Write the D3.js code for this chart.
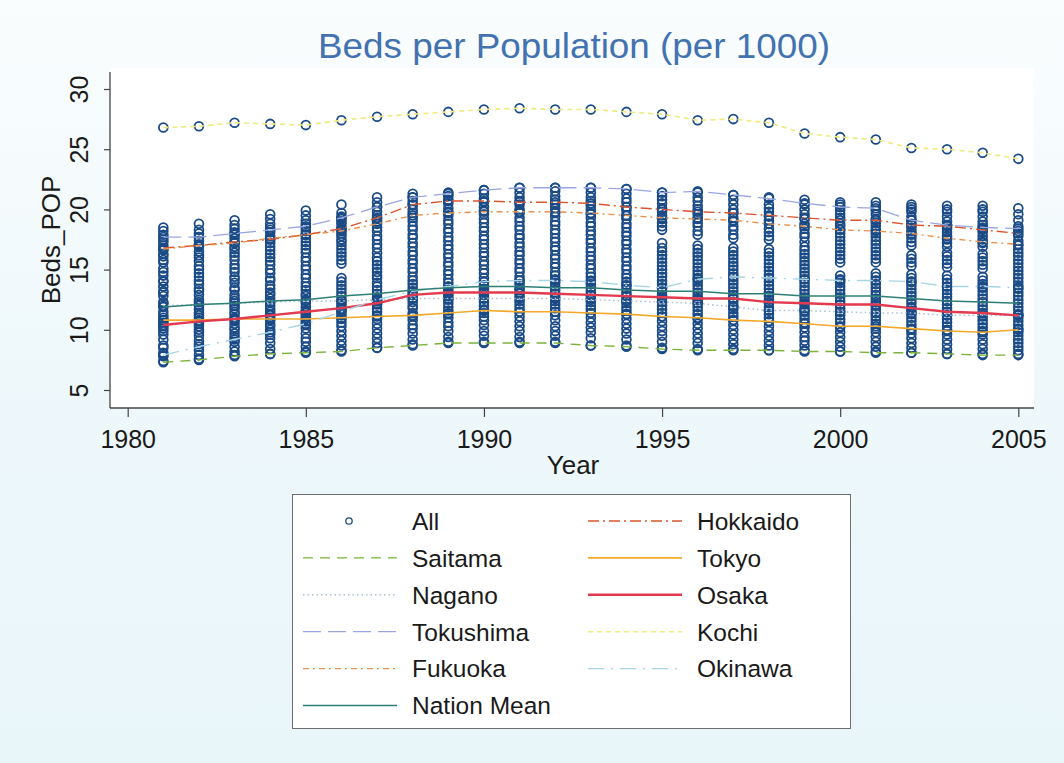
<!DOCTYPE html>
<html>
<head>
<meta charset="utf-8">
<script src="https://cdn.jsdelivr.net/npm/d3@7"></script>
<style>
  body { margin: 0; background: #ffffff; }
  svg { display: block; font-family: "Liberation Sans", Arial, sans-serif; }
</style>
</head>
<body>
<div id="chart"></div>
<script>
// years on the x axis
var years = [1981, 1982, 1983, 1984, 1985, 1986, 1987, 1988, 1989, 1990, 1991, 1992, 1993,
             1994, 1995, 1996, 1997, 1998, 1999, 2000, 2001, 2002, 2003, 2004, 2005];

// highlighted prefectures (beds per 1000 population)
var hokkaido   = [16.8, 17.0, 17.3, 17.5, 17.9, 18.4, 19.3, 20.4, 20.7, 20.7, 20.6, 20.6, 20.5, 20.2, 20.0, 19.8, 19.7, 19.5, 19.3, 19.1, 19.1, 18.7, 18.6, 18.3, 18.0];
var saitama    = [7.3, 7.5, 7.8, 8.0, 8.1, 8.2, 8.5, 8.7, 8.9, 8.9, 8.9, 8.9, 8.7, 8.6, 8.4, 8.3, 8.3, 8.3, 8.2, 8.2, 8.1, 8.1, 8.0, 7.9, 7.9];
var tokyo      = [10.8, 10.8, 10.9, 10.9, 10.9, 11.0, 11.1, 11.2, 11.4, 11.6, 11.5, 11.5, 11.4, 11.3, 11.1, 11.0, 10.8, 10.7, 10.5, 10.3, 10.3, 10.1, 9.9, 9.8, 10.0];
var nagano     = [12.0, 12.1, 12.2, 12.3, 12.4, 12.4, 12.5, 12.6, 12.6, 12.6, 12.6, 12.6, 12.5, 12.4, 12.3, 12.2, 11.9, 11.6, 11.6, 11.5, 11.4, 11.4, 11.2, 11.2, 11.2];
var osaka      = [10.4, 10.7, 10.9, 11.2, 11.5, 11.8, 12.2, 12.9, 13.1, 13.1, 13.1, 13.0, 12.9, 12.8, 12.7, 12.6, 12.6, 12.3, 12.2, 12.1, 12.1, 11.8, 11.5, 11.4, 11.2];
var tokushima  = [17.7, 17.7, 18.0, 18.3, 18.6, 19.3, 20.2, 21.0, 21.3, 21.6, 21.8, 21.8, 21.8, 21.7, 21.4, 21.5, 21.2, 20.9, 20.5, 20.2, 20.1, 19.1, 18.7, 18.5, 18.4];
var kochi      = [26.8, 26.9, 27.2, 27.1, 27.0, 27.4, 27.7, 27.9, 28.1, 28.3, 28.4, 28.3, 28.3, 28.1, 27.9, 27.4, 27.5, 27.2, 26.3, 26.0, 25.8, 25.1, 25.0, 24.7, 24.2];
var fukuoka    = [16.7, 17.0, 17.2, 17.6, 17.9, 18.2, 18.8, 19.5, 19.7, 19.8, 19.8, 19.8, 19.7, 19.5, 19.3, 19.2, 19.1, 18.8, 18.6, 18.3, 18.2, 18.0, 17.6, 17.3, 17.1];
var okinawa    = [7.9, 8.6, 9.2, 9.8, 10.5, 11.5, 12.5, 13.2, 13.6, 14.0, 14.1, 14.1, 14.0, 13.7, 13.5, 14.2, 14.4, 14.3, 14.2, 14.1, 14.1, 14.0, 13.6, 13.6, 13.5];
var nationMean = [11.9, 12.1, 12.2, 12.4, 12.5, 12.8, 13.0, 13.3, 13.5, 13.6, 13.6, 13.5, 13.5, 13.3, 13.2, 13.2, 13.0, 13.0, 12.8, 12.8, 12.8, 12.6, 12.4, 12.3, 12.2];

// remaining prefectures, one list per year (read from the stacked circles)
var othersByYear = [
  [7.4, 7.8, 8.1, 8.5, 8.7, 9.2, 9.6, 9.9, 10.1, 10.3, 10.6, 10.8, 11.0, 11.2, 11.5, 11.9, 12.2, 12.3, 12.8, 13.1, 13.2, 13.6, 14.0, 14.1, 14.5, 14.8, 15.1, 15.6, 15.8, 16.1, 16.3, 16.6, 17.0, 17.3, 17.5, 17.9, 18.2, 18.5],
  [7.6, 7.9, 8.3, 8.8, 9.1, 9.5, 9.8, 10.0, 10.3, 10.5, 10.7, 11.0, 11.2, 11.4, 11.7, 12.0, 12.3, 12.5, 12.9, 13.2, 13.4, 13.8, 14.1, 14.4, 14.7, 15.0, 15.3, 15.7, 16.0, 16.2, 16.5, 16.9, 17.1, 17.4, 17.7, 18.0, 18.3, 18.8],
  [7.9, 8.2, 8.6, 9.0, 9.4, 9.7, 10.0, 10.2, 10.5, 10.8, 11.0, 11.3, 11.5, 11.8, 12.0, 12.4, 12.6, 12.9, 13.3, 13.5, 13.9, 14.2, 14.4, 14.8, 15.1, 15.4, 15.8, 16.1, 16.4, 16.7, 16.9, 17.2, 17.6, 17.9, 18.1, 18.4, 18.7, 19.1],
  [8.0, 8.4, 8.9, 9.3, 9.6, 10.0, 10.3, 10.5, 10.8, 11.0, 11.3, 11.5, 11.7, 12.0, 12.3, 12.6, 12.9, 13.1, 13.4, 13.7, 14.1, 14.3, 14.7, 15.0, 15.4, 15.7, 16.0, 16.3, 16.6, 16.9, 17.2, 17.5, 17.8, 18.1, 18.5, 18.8, 19.2, 19.6],
  [8.2, 8.6, 9.0, 9.3, 9.7, 10.1, 10.4, 10.7, 11.0, 11.2, 11.4, 11.6, 11.9, 12.2, 12.5, 12.8, 13.0, 13.3, 13.6, 13.9, 14.3, 14.6, 15.0, 15.3, 15.7, 16.0, 16.4, 16.7, 17.0, 17.3, 17.6, 17.9, 18.2, 18.5, 18.8, 19.1, 19.5, 19.9],
  [8.3, 8.7, 9.1, 9.5, 9.9, 10.3, 10.6, 10.9, 11.2, 11.5, 11.7, 12.0, 12.2, 12.5, 12.8, 13.1, 13.4, 13.7, 14.0, 14.3, 15.5, 15.8, 16.1, 16.4, 16.7, 17.0, 17.3, 17.5, 17.8, 18.0, 18.3, 18.5, 18.8, 19.0, 19.2, 19.4, 19.7, 20.4],
  [8.5, 8.9, 9.3, 9.7, 10.1, 10.5, 10.9, 11.2, 11.5, 11.8, 12.1, 12.4, 12.7, 13.0, 13.3, 13.6, 13.9, 14.3, 14.5, 14.8, 15.1, 15.4, 15.7, 16.0, 16.4, 16.8, 17.1, 17.5, 17.8, 18.2, 18.5, 19.0, 19.2, 19.5, 19.8, 20.2, 20.6, 21.0],
  [8.8, 9.2, 9.7, 10.1, 10.4, 10.8, 11.1, 11.4, 11.8, 12.0, 12.3, 12.6, 12.9, 13.2, 13.5, 13.8, 14.1, 14.4, 14.8, 15.1, 15.5, 15.8, 16.2, 16.5, 16.9, 17.2, 17.6, 17.9, 18.3, 18.6, 19.0, 19.3, 19.7, 20.0, 20.4, 20.7, 21.0, 21.3],
  [9.0, 9.4, 9.9, 10.3, 10.6, 11.0, 11.3, 11.6, 11.9, 12.2, 12.5, 12.8, 13.0, 13.3, 13.6, 13.9, 14.2, 14.6, 14.9, 15.3, 15.6, 16.0, 16.3, 16.7, 17.0, 17.4, 17.7, 18.1, 18.4, 18.8, 19.1, 19.5, 19.8, 20.1, 20.5, 20.8, 21.1, 21.4],
  [9.0, 9.5, 9.9, 10.4, 10.8, 11.1, 11.4, 11.7, 12.0, 12.3, 12.6, 12.9, 13.2, 13.4, 13.7, 14.0, 14.3, 14.7, 15.0, 15.4, 15.7, 16.1, 16.4, 16.8, 17.1, 17.5, 17.8, 18.2, 18.5, 18.9, 19.2, 19.6, 19.9, 20.2, 20.6, 20.9, 21.3, 21.6],
  [9.0, 9.4, 9.9, 10.3, 10.7, 11.1, 11.5, 11.8, 12.1, 12.4, 12.7, 13.0, 13.3, 13.5, 13.8, 14.1, 14.4, 14.8, 15.1, 15.5, 15.8, 16.2, 16.5, 16.9, 17.2, 17.6, 17.9, 18.3, 18.6, 19.0, 19.3, 19.7, 20.0, 20.4, 20.7, 21.0, 21.4, 21.8],
  [9.0, 9.5, 9.9, 10.3, 10.8, 11.2, 11.5, 11.8, 12.1, 12.4, 12.7, 13.0, 13.3, 13.6, 13.9, 14.2, 14.5, 14.8, 15.2, 15.5, 15.9, 16.2, 16.6, 16.9, 17.3, 17.6, 18.0, 18.3, 18.7, 19.0, 19.4, 19.7, 20.1, 20.4, 20.8, 21.1, 21.5, 21.8],
  [8.7, 9.3, 9.8, 10.2, 10.6, 11.0, 11.4, 11.7, 12.0, 12.3, 12.6, 12.9, 13.2, 13.5, 13.8, 14.1, 14.4, 14.7, 15.1, 15.4, 15.8, 16.1, 16.5, 16.8, 17.2, 17.5, 17.9, 18.2, 18.6, 18.9, 19.3, 19.6, 20.0, 20.3, 20.7, 21.0, 21.4, 21.8],
  [8.7, 9.2, 9.7, 10.1, 10.5, 10.9, 11.3, 11.6, 11.9, 12.2, 12.5, 12.8, 13.1, 13.4, 13.7, 14.0, 14.3, 14.6, 15.0, 15.3, 15.7, 16.0, 16.4, 16.7, 17.1, 17.4, 17.8, 18.1, 18.5, 18.8, 19.2, 19.5, 19.9, 20.2, 20.6, 20.9, 21.3, 21.7],
  [8.5, 9.0, 9.5, 9.9, 10.3, 10.7, 11.1, 11.4, 11.7, 12.0, 12.3, 12.6, 12.9, 13.2, 13.5, 13.8, 14.1, 14.4, 14.7, 15.0, 15.3, 15.6, 15.9, 16.2, 16.5, 16.8, 17.2, 18.3, 18.6, 18.9, 19.2, 19.5, 19.8, 20.1, 20.5, 20.8, 21.1, 21.4],
  [8.4, 8.9, 9.3, 9.7, 10.1, 10.5, 10.9, 11.3, 11.6, 11.9, 12.2, 12.5, 12.8, 13.1, 13.4, 13.7, 14.0, 14.3, 14.6, 14.9, 15.2, 15.5, 15.8, 16.1, 16.4, 16.7, 17.0, 17.9, 18.2, 18.6, 18.9, 19.3, 19.6, 20.0, 20.3, 20.7, 21.0, 21.4],
  [8.4, 8.8, 9.2, 9.6, 10.0, 10.4, 10.8, 11.1, 11.4, 11.7, 12.0, 12.3, 12.6, 12.9, 13.2, 13.5, 13.8, 14.1, 14.4, 14.7, 15.0, 15.3, 15.6, 15.9, 16.2, 16.5, 16.8, 17.6, 17.9, 18.3, 18.6, 19.0, 19.3, 19.7, 20.0, 20.4, 20.8, 21.2],
  [8.3, 8.7, 9.1, 9.5, 9.9, 10.3, 10.7, 11.0, 11.3, 11.6, 11.9, 12.2, 12.5, 12.8, 13.1, 13.4, 13.7, 14.0, 14.3, 14.6, 14.9, 15.2, 15.5, 15.8, 16.1, 16.4, 16.7, 17.5, 17.8, 18.1, 18.4, 18.8, 19.1, 19.4, 19.8, 20.1, 20.4, 21.0],
  [8.3, 8.7, 9.1, 9.4, 9.8, 10.2, 10.6, 10.9, 11.2, 11.5, 11.8, 12.1, 12.4, 12.7, 13.0, 13.3, 13.6, 13.9, 14.2, 14.5, 14.8, 15.1, 15.4, 15.7, 16.0, 16.3, 16.6, 16.9, 17.3, 17.7, 18.0, 18.4, 18.8, 19.2, 19.6, 20.0, 20.4, 20.8],
  [8.2, 8.6, 9.0, 9.4, 9.8, 10.2, 10.6, 10.9, 11.2, 11.5, 11.8, 12.1, 12.4, 12.7, 13.0, 13.3, 13.6, 13.9, 14.2, 14.5, 15.6, 15.9, 16.2, 16.5, 16.8, 17.1, 17.4, 17.7, 18.0, 18.3, 18.6, 18.8, 19.3, 19.6, 19.9, 20.2, 20.4, 20.6],
  [8.2, 8.6, 9.0, 9.4, 9.8, 10.1, 10.5, 10.8, 11.1, 11.4, 11.7, 12.0, 12.3, 12.6, 12.9, 13.2, 13.5, 13.8, 14.1, 14.4, 14.7, 15.6, 15.9, 16.2, 16.5, 16.8, 17.1, 17.4, 17.7, 18.0, 18.3, 18.6, 18.9, 19.2, 19.6, 19.9, 20.3, 20.6],
  [8.1, 8.5, 8.9, 9.3, 9.7, 10.0, 10.4, 10.7, 11.0, 11.3, 11.6, 11.9, 12.2, 12.5, 12.8, 13.1, 13.4, 13.7, 14.0, 14.3, 14.6, 15.3, 15.6, 15.9, 16.2, 17.0, 17.3, 17.6, 17.9, 18.2, 18.5, 18.8, 19.1, 19.4, 19.8, 20.0, 20.2, 20.4],
  [8.0, 8.4, 8.8, 9.2, 9.6, 10.0, 10.3, 10.6, 10.9, 11.2, 11.5, 11.8, 12.1, 12.4, 12.7, 13.0, 13.3, 13.6, 13.9, 14.2, 14.5, 15.2, 15.5, 15.8, 16.1, 16.4, 16.9, 17.2, 17.5, 17.8, 18.1, 18.4, 18.7, 19.0, 19.4, 19.8, 20.0, 20.3],
  [8.0, 8.4, 8.8, 9.2, 9.6, 9.9, 10.2, 10.5, 10.8, 11.1, 11.4, 11.7, 12.0, 12.3, 12.6, 12.9, 13.2, 13.5, 13.8, 14.1, 14.4, 15.1, 15.4, 15.7, 16.0, 16.3, 16.9, 17.2, 17.5, 17.8, 18.1, 18.4, 18.7, 19.0, 19.4, 19.8, 20.0, 20.3],
  [8.0, 8.3, 8.6, 8.9, 9.2, 9.5, 9.8, 10.1, 10.4, 10.7, 11.0, 11.3, 11.6, 11.9, 12.2, 12.5, 12.8, 13.1, 13.4, 13.7, 14.0, 14.3, 14.6, 14.9, 15.2, 15.5, 15.8, 16.1, 16.4, 16.7, 17.0, 17.4, 17.8, 18.2, 18.6, 19.1, 19.6, 20.1]
];

var xTicks = [1980, 1985, 1990, 1995, 2000, 2005];
var yTicks = [5, 10, 15, 20, 25, 30];

// line series in Stata plot order (legend is filled row by row after "All")
var series = [
  {name: "Hokkaido",    values: hokkaido,   color: "#d9552e", width: 1.4, dash: "11,4,2,4"},
  {name: "Saitama",     values: saitama,    color: "#7bb33a", width: 1.4, dash: "10,7"},
  {name: "Tokyo",       values: tokyo,      color: "#f2a92a", width: 1.6, dash: null},
  {name: "Nagano",      values: nagano,     color: "#a9bfd3", width: 1.5, dash: "1.5,3"},
  {name: "Osaka",       values: osaka,      color: "#e23a4e", width: 2.4, dash: null},
  {name: "Tokushima",   values: tokushima,  color: "#9aa6e4", width: 1.3, dash: "18,7"},
  {name: "Kochi",       values: kochi,      color: "#eeea7c", width: 1.6, dash: "5,4"},
  {name: "Fukuoka",     values: fukuoka,    color: "#e8904c", width: 1.4, dash: "6,4,2,4"},
  {name: "Okinawa",     values: okinawa,    color: "#a6d6e6", width: 1.4, dash: "16,7,2,7"},
  {name: "Nation Mean", values: nationMean, color: "#2e8076", width: 1.5, dash: null}
];

var W = 1064, H = 763;

var svg = d3.select("#chart").append("svg")
    .attr("width", W)
    .attr("height", H);

var defs = svg.append("defs");
var grad = defs.append("linearGradient")
    .attr("id", "bg")
    .attr("x1", 0).attr("y1", 0).attr("x2", 0).attr("y2", 1);
grad.append("stop").attr("offset", "0%").attr("stop-color", "#fafdfe");
grad.append("stop").attr("offset", "50%").attr("stop-color", "#eef8fb");
grad.append("stop").attr("offset", "100%").attr("stop-color", "#e8f5f9");

svg.append("rect")
    .attr("width", W).attr("height", H)
    .attr("fill", "url(#bg)");

// plot region
var plot = {left: 110, right: 1034, top: 68, bottom: 408};

svg.append("rect")
    .attr("x", plot.left).attr("y", plot.top)
    .attr("width", plot.right - plot.left)
    .attr("height", plot.bottom - plot.top)
    .attr("fill", "#ffffff");

var x = d3.scaleLinear()
    .domain([1980, 2005])
    .range([127.7, 1018.3]);

var y = d3.scaleLinear()
    .domain([5, 30])
    .range([390, 89]);

// title
svg.append("text")
    .attr("x", 574)
    .attr("y", 58)
    .attr("text-anchor", "middle")
    .attr("fill", "#4272b0")
    .attr("font-size", 35)
    .attr("textLength", 512)
    .attr("lengthAdjust", "spacingAndGlyphs")
    .text("Beds per Population (per 1000)");

// axes
var xAxis = svg.append("g")
    .attr("transform", "translate(0," + plot.bottom + ")")
    .call(d3.axisBottom(x).tickValues(xTicks).tickFormat(d3.format("d")).tickSize(9));

xAxis.select(".domain").remove();
xAxis.selectAll(".tick line").attr("stroke", "#444").attr("stroke-width", 1.2);
xAxis.selectAll(".tick text")
    .attr("y", 40)
    .attr("dy", 0)
    .attr("fill", "#1a1a1a")
    .attr("font-size", 25)
    .attr("font-family", "Liberation Sans, Arial, sans-serif");

var yAxis = svg.append("g")
    .attr("transform", "translate(" + plot.left + ",0)")
    .call(d3.axisLeft(y).tickValues(yTicks).tickSize(6));

yAxis.select(".domain").remove();
yAxis.selectAll(".tick line").attr("stroke", "#444").attr("stroke-width", 1.2);
yAxis.selectAll(".tick text")
    .attr("transform", "rotate(-90)")
    .attr("x", 0)
    .attr("y", -22)
    .attr("dy", 0)
    .attr("text-anchor", "middle")
    .attr("fill", "#1a1a1a")
    .attr("font-size", 25)
    .attr("font-family", "Liberation Sans, Arial, sans-serif");

svg.append("line")
    .attr("x1", plot.left).attr("x2", plot.left)
    .attr("y1", 72).attr("y2", plot.bottom)
    .attr("stroke", "#444").attr("stroke-width", 1.3);

svg.append("line")
    .attr("x1", plot.left).attr("x2", plot.right)
    .attr("y1", plot.bottom).attr("y2", plot.bottom)
    .attr("stroke", "#444").attr("stroke-width", 1.3);

svg.append("text")
    .attr("transform", "translate(60,240) rotate(-90)")
    .attr("text-anchor", "middle")
    .attr("fill", "#1a1a1a")
    .attr("font-size", 26)
    .text("Beds_POP");

svg.append("text")
    .attr("x", 573)
    .attr("y", 474)
    .attr("text-anchor", "middle")
    .attr("fill", "#1a1a1a")
    .attr("font-size", 26)
    .text("Year");

// scatter of all prefectures
var points = [];
years.forEach(function (yr, i) {
    othersByYear[i].forEach(function (v) {
        points.push({year: yr, value: v});
    });
    series.forEach(function (s) {
        if (s.name !== "Nation Mean") {
            points.push({year: yr, value: s.values[i]});
        }
    });
});

var g = svg.append("g");

g.selectAll("circle.all")
    .data(points)
    .enter().append("circle")
    .attr("class", "all")
    .attr("cx", function (d) { return x(d.year); })
    .attr("cy", function (d) { return y(d.value); })
    .attr("r", 4.4)
    .attr("fill", "none")
    .attr("stroke", "#1a4b86")
    .attr("stroke-width", 1.8);

// lines
var line = d3.line()
    .x(function (d, i) { return x(years[i]); })
    .y(function (d) { return y(d); });

series.forEach(function (s) {
    g.append("path")
        .datum(s.values)
        .attr("d", line)
        .attr("fill", "none")
        .attr("stroke", s.color)
        .attr("stroke-width", s.width)
        .attr("stroke-dasharray", s.dash);
});

// legend
var legend = svg.append("g");

legend.append("rect")
    .attr("x", 292.5).attr("y", 494.5)
    .attr("width", 558).attr("height", 234)
    .attr("fill", "#ffffff")
    .attr("stroke", "#6e6e6e")
    .attr("stroke-width", 1);

var items = [{name: "All"}].concat(series);
var colKey = [303, 588], colText = [412, 697];
var rowY0 = 521, rowStep = 36.9;

items.forEach(function (s, i) {
    var col = i % 2, row = Math.floor(i / 2);
    var cy = rowY0 + row * rowStep;
    if (s.name === "All") {
        legend.append("circle")
            .attr("cx", 349).attr("cy", cy)
            .attr("r", 3.2)
            .attr("fill", "none")
            .attr("stroke", "#1a4b86")
            .attr("stroke-width", 1.3);
    } else {
        legend.append("line")
            .attr("x1", colKey[col]).attr("x2", colKey[col] + 94)
            .attr("y1", cy).attr("y2", cy)
            .attr("stroke", s.color)
            .attr("stroke-width", s.width)
            .attr("stroke-dasharray", s.dash);
    }
    legend.append("text")
        .attr("x", colText[col])
        .attr("y", cy)
        .attr("dy", "0.36em")
        .attr("fill", "#1a1a1a")
        .attr("font-size", 24.5)
        .text(s.name);
});
</script>
</body>
</html>
